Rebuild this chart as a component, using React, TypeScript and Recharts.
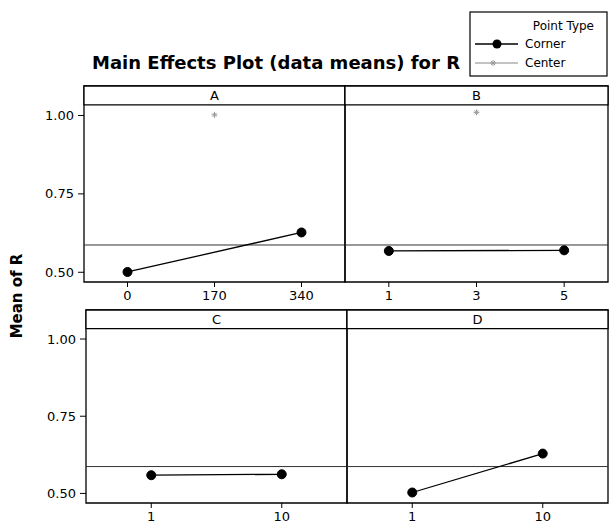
import React from 'react';
import { ComposedChart, Line, Scatter, XAxis, YAxis, ReferenceLine, ReferenceArea } from 'recharts';

const FONT = '"DejaVu Sans", Verdana, sans-serif';

// factor A
const aLevels = [0, 340];
const aMeans = [0.501, 0.627];
const aTicks = [0, 170, 340];
const aCenterLevel = [170];
const aCenterMean = [1.002];

// factor B
const bLevels = [1, 5];
const bMeans = [0.568, 0.57];
const bTicks = [1, 3, 5];
const bCenterLevel = [3];
const bCenterMean = [1.01];

// factors C and D (text levels, no center points)
const cLevels = ['1', '10'];
const cMeans = [0.559, 0.562];
const dLevels = ['1', '10'];
const dMeans = [0.503, 0.629];

const grandMean = 0.587;
const yTicks = [0.5, 0.75, 1.0];
const yDomain: [number, number] = [0.469, 1.094];
const headerY = 1.034;

type Pt = { x: number; y: number };

function Asterisk(props: any) {
  const { cx, cy } = props;
  if (cx == null || cy == null) return null;
  const s = 3;
  return (
    <g stroke="#9a9a9a" strokeWidth={1}>
      <line x1={cx - s} y1={cy} x2={cx + s} y2={cy} />
      <line x1={cx} y1={cy - s} x2={cx} y2={cy + s} />
      <line x1={cx - s + 1} y1={cy - s + 1} x2={cx + s - 1} y2={cy + s - 1} />
      <line x1={cx - s + 1} y1={cy + s - 1} x2={cx + s - 1} y2={cy - s + 1} />
    </g>
  );
}

interface PanelProps {
  name: string;
  corner: Pt[];
  center: Pt[];
  xDomain: [number, number];
  xTicks: number[];
  fmt: (v: number) => string;
  plot: { x: number; y: number; w: number; h: number };
  yw: number;
}

function Panel({ name, corner, center, xDomain, xTicks, fmt, plot, yw }: PanelProps) {
  const xAxisH = 30;
  const width = 2 + yw + plot.w + 2;
  const height = 2 + plot.h + xAxisH;
  return (
    <div style={{ position: 'absolute', left: plot.x - 2 - yw, top: plot.y - 2 }}>
      <ComposedChart width={width} height={height} margin={{ top: 2, right: 2, bottom: 0, left: 2 }}>
        <XAxis
          type="number"
          dataKey="x"
          domain={xDomain}
          ticks={xTicks}
          interval={0}
          tickFormatter={fmt}
          allowDataOverflow
          axisLine={false}
          tickLine={{ stroke: '#000' }}
          tickSize={5}
          tickMargin={4}
          height={xAxisH}
          tick={{ fontSize: 13, fill: '#000', fontFamily: FONT }}
        />
        <YAxis
          type="number"
          domain={yDomain}
          ticks={yTicks}
          allowDataOverflow
          hide={yw === 0}
          width={yw}
          axisLine={false}
          tickLine={{ stroke: '#000' }}
          tickSize={6}
          tickMargin={4}
          tickFormatter={(v: number) => v.toFixed(2)}
          tick={{ fontSize: 13, fill: '#000', fontFamily: FONT }}
        />
        <ReferenceArea
          x1={xDomain[0]}
          x2={xDomain[1]}
          y1={yDomain[0]}
          y2={yDomain[1]}
          fill="none"
          fillOpacity={0}
          stroke="#000"
          strokeWidth={1.3}
          ifOverflow="visible"
        />
        <ReferenceArea
          x1={xDomain[0]}
          x2={xDomain[1]}
          y1={headerY}
          y2={yDomain[1]}
          fill="#fff"
          fillOpacity={1}
          stroke="#000"
          strokeWidth={1.3}
          ifOverflow="visible"
          label={{ value: name, position: 'center', fill: '#000', fontSize: 13, fontFamily: FONT }}
        />
        <ReferenceLine y={grandMean} stroke="#333" strokeWidth={1} ifOverflow="visible" />
        <Line
          data={corner}
          dataKey="y"
          stroke="#000"
          strokeWidth={1.3}
          dot={{ r: 4.5, fill: '#000', stroke: '#000', strokeWidth: 1 }}
          isAnimationActive={false}
          legendType="none"
        />
        {center.length > 0 && (
          <Scatter data={center} dataKey="y" shape={<Asterisk />} isAnimationActive={false} />
        )}
      </ComposedChart>
    </div>
  );
}

const toPts = (xs: number[], ys: number[]): Pt[] => xs.map((x, i) => ({ x, y: ys[i] }));
const padDomain = (xs: number[]): [number, number] => {
  const pad = (xs[xs.length - 1] - xs[0]) / 4;
  return [xs[0] - pad, xs[xs.length - 1] + pad];
};
const catPositions = (labels: string[]) => labels.map((_, i) => i + 1);
const catDomain = (labels: string[]): [number, number] => [0.5, labels.length + 0.5];

export default function App() {
  return (
    <div
      style={{
        position: 'absolute',
        left: 0,
        top: 0,
        width: 610,
        height: 524,
        overflow: 'hidden',
        background: '#fff',
        fontFamily: FONT,
      }}
    >
      <svg width={610} height={100} style={{ position: 'absolute', left: 0, top: 0 }}>
        <text
          x={92}
          y={69}
          fontSize={18}
          fontWeight="bold"
          fontFamily={FONT}
          textLength={368}
          lengthAdjust="spacingAndGlyphs"
        >
          Main Effects Plot (data means) for R
        </text>
        <rect x={470} y={12} width={137} height={64} fill="#fff" stroke="#000" strokeWidth={1.2} />
        <text x={594} y={30} fontSize={12} textAnchor="end" fontFamily={FONT}>
          Point Type
        </text>
        <line x1={475} y1={44} x2={518} y2={44} stroke="#000" strokeWidth={1.5} />
        <circle cx={497} cy={44} r={4.5} fill="#000" />
        <text x={525} y={48} fontSize={12} fontFamily={FONT}>
          Corner
        </text>
        <line x1={475} y1={63} x2={518} y2={63} stroke="#888" strokeWidth={1} />
        <Asterisk cx={493} cy={63} />
        <text x={525} y={67} fontSize={12} fontFamily={FONT}>
          Center
        </text>
      </svg>
      <svg width={40} height={524} style={{ position: 'absolute', left: 0, top: 0 }}>
        <text
          x={0}
          y={0}
          transform="translate(22 296) rotate(-90)"
          textAnchor="middle"
          fontSize={15}
          fontWeight="bold"
          fontFamily={FONT}
        >
          Mean of R
        </text>
      </svg>

      <Panel
        name="A"
        corner={toPts(aLevels, aMeans)}
        center={toPts(aCenterLevel, aCenterMean)}
        xDomain={padDomain(aLevels)}
        xTicks={aTicks}
        fmt={(v) => String(v)}
        plot={{ x: 84, y: 86, w: 261, h: 196 }}
        yw={84}
      />
      <Panel
        name="B"
        corner={toPts(bLevels, bMeans)}
        center={toPts(bCenterLevel, bCenterMean)}
        xDomain={padDomain(bLevels)}
        xTicks={bTicks}
        fmt={(v) => String(v)}
        plot={{ x: 345, y: 86, w: 263, h: 196 }}
        yw={0}
      />
      <Panel
        name="C"
        corner={toPts(catPositions(cLevels), cMeans)}
        center={[]}
        xDomain={catDomain(cLevels)}
        xTicks={catPositions(cLevels)}
        fmt={(v) => cLevels[v - 1]}
        plot={{ x: 86, y: 310, w: 261, h: 193 }}
        yw={86}
      />
      <Panel
        name="D"
        corner={toPts(catPositions(dLevels), dMeans)}
        center={[]}
        xDomain={catDomain(dLevels)}
        xTicks={catPositions(dLevels)}
        fmt={(v) => dLevels[v - 1]}
        plot={{ x: 347, y: 310, w: 261, h: 193 }}
        yw={0}
      />
    </div>
  );
}
